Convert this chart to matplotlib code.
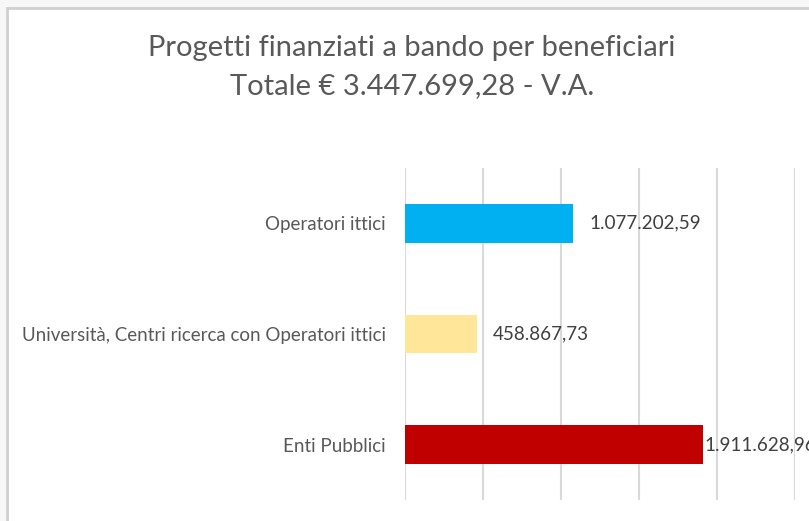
import matplotlib.pyplot as plt
from matplotlib.patches import Rectangle

# data (bottom to top, as Excel draws bar charts)
categories = ["Enti Pubblici",
              "Università, Centri ricerca con Operatori ittici",
              "Operatori ittici"]
values = [1911628.96, 458867.73, 1077202.59]
value_labels = ["1.911.628,96", "458.867,73", "1.077.202,59"]
colors = ["#C00000", "#FFE699", "#00B0F0"]
label_pad = [1, 16, 16]   # px gap between bar end and label

FONT = "Lato"
W, H = 809, 521
fig = plt.figure(figsize=(W / 100, H / 100), dpi=100)
fig.patch.set_facecolor("#F7F7F7")

# chart area with light border (the source screenshot is cropped right/bottom)
fig.add_artist(Rectangle((7 / W, -0.1), 1.2, 1.1 - 8 / H, transform=fig.transFigure,
                         facecolor="white", edgecolor="#D0D0D0", lw=2, zorder=0))

ax = fig.add_axes([405 / W, 1 - 500 / H, (795 - 405) / W, (500 - 168) / H])
ax.set_facecolor("none")
y = list(range(len(categories)))
ax.barh(y, values, height=0.35, color=colors, zorder=3)
ax.set_xlim(0, 2500000)
ax.set_ylim(-0.5, 2.5)
ax.set_xticks([0, 500000, 1000000, 1500000, 2000000, 2500000])
ax.grid(axis="x", color="#D9D9D9", lw=1.5, zorder=0)
ax.tick_params(axis="x", length=0, labelbottom=False)
ax.tick_params(axis="y", length=0, pad=14)
ax.set_yticks(y)
ax.set_yticklabels(categories, fontsize=13.5, color="#595959", family=FONT)
for s in ax.spines.values():
    s.set_visible(False)

for yi, v, lab, p in zip(y, values, value_labels, label_pad):
    ax.annotate(lab, (v, yi), xytext=(p, 0), textcoords="offset pixels",
                va="center", ha="left", fontsize=13.6, color="#404040",
                family=FONT, annotation_clip=False)

fig.text(412 / W, 1 - 48 / H, "Progetti finanziati a bando per beneficiari",
         ha="center", va="center", fontsize=21, color="#595959", family=FONT)
fig.text(412 / W, 1 - 86 / H, "Totale € 3.447.699,28 - V.A.",
         ha="center", va="center", fontsize=21, color="#595959", family=FONT)

fig.savefig("out.png", dpi=100)
